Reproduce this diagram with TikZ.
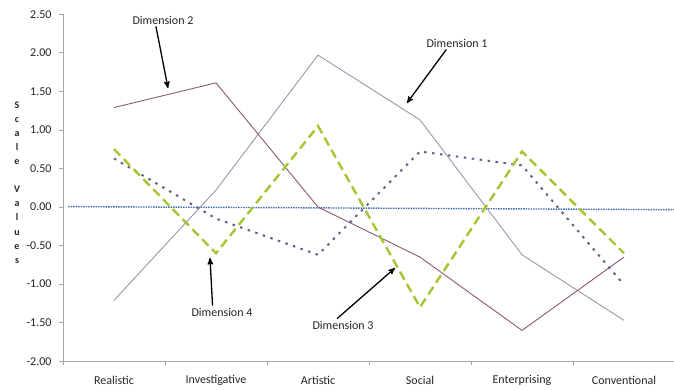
\documentclass[tikz,border=0pt]{standalone}
\usepackage{fontspec}
\setmainfont{Carlito}
\usepackage{tikz}
\usepackage{color}
\usetikzlibrary{arrows}

\definecolor{axisgray}{HTML}{A6A6A6}
\definecolor{colone}{HTML}{A094AA}
\definecolor{coltwo}{HTML}{8C5878}
\definecolor{colthree}{HTML}{5E6486}
\definecolor{colfour}{HTML}{A4C632}
\definecolor{colzero}{HTML}{4470AE}

\begin{document}
\begin{tikzpicture}[x=1pt,y=1pt,
  pointer/.style={-stealth', line width=1.3pt, black},
  dimlabel/.style={font=\fontsize{12}{14}\selectfont, inner sep=2pt, text=black!85},
  ticklabel/.style={font=\fontsize{12}{14}\selectfont, text=black!85}]

% Page
\useasboundingbox[fill=white] (0,0) rectangle (674,389);

\begin{scope}[shift={(114,182)}, x=102pt, y=77.1pt]
% Draw axes
\draw[axisgray, line width=0.8pt] (-0.5,-2) -- (5.5,-2);
\draw[axisgray, line width=0.8pt] (-0.5,-2) -- (-0.5,2.5);

% Vertical ticks and labels
\foreach \v/\t [count=\i] in {2.5/2.50, 2/2.00, 1.5/1.50, 1/1.00, 0.5/0.50, 0/0.00,
    -0.5/-0.50, -1/-1.00, -1.5/-1.50, -2/-2.00} {
  \draw[axisgray, line width=0.8pt] (-0.5,\v) -- ++(-4pt,0);
  \node[ticklabel, anchor=east] (yl\i) at ([xshift=-8pt]-0.5,\v) {\t};
}

% Horizontal ticks and labels
\foreach \k in {-0.5,0.5,...,5.5}
  \draw[axisgray, line width=0.8pt] (\k,-2) -- ++(0,-4pt);
\foreach \c [count=\i from 0] in {Realistic, Investigative, Artistic, Social,
    Enterprising, Conventional}
  \node[ticklabel] (cat\i) at ([yshift=-19pt]\i,-2) {\c};

% Zero line
\draw[colzero, line width=1.4pt, dash pattern=on 1.5pt off 1pt] (-0.45,0.005) -- (5.5,-0.035);

% Dimension 1
\draw[colone, line width=0.9pt] (0,-1.21) -- (1,0.22) -- (2,1.97) -- (3,1.13) -- (4,-0.62) -- (5,-1.47);

% Dimension 2
\draw[coltwo, line width=0.9pt] (0,1.29) -- (1,1.61) -- (2,0.0) -- (3,-0.65) -- (4,-1.60) -- (5,-0.65);

% Dimension 3
\draw[colthree, line width=2pt, dash pattern=on 2.5pt off 5.5pt] (0,0.63) -- (1,-0.15) -- (2,-0.62) -- (3,0.72) -- (4,0.54) -- (5,-1.01);

% Dimension 4
\draw[colfour, line width=2.4pt, dash pattern=on 9pt off 5pt] (0,0.75) -- (1,-0.60) -- (2,1.05) -- (3,-1.30) -- (4,0.72) -- (5,-0.60);
\end{scope}

% Axis title
\node[font=\fontsize{10}{14.1}\selectfont\bfseries, align=center, text=black!85] (ytitle) at (17,206.5)
  {S\\c\\a\\l\\e\\\mbox{}\\V\\a\\l\\u\\e\\s};

% Label the dimensions
\node[dimlabel] (dimtwo) at (163,369) {Dimension 2};
\node[dimlabel] (dimone) at (457,346) {Dimension 1};
\node[dimlabel] (dimfour) at (222,77) {Dimension 4};
\node[dimlabel] (dimthree) at (343,64) {Dimension 3};

\coordinate (tiptwo) at (168,301);
\coordinate (tipone) at (407,286);
\coordinate (tipfour) at (210,131);
\coordinate (tipthree) at (395,121);

% Draw pointers
\draw[pointer] (dimtwo.222) -- (tiptwo);
\draw[pointer] (dimone.211) -- (tipone);
\draw[pointer] (dimfour.146) -- (tipfour);
\draw[pointer] (dimthree.133) -- (tipthree);
\end{tikzpicture}
\end{document}
